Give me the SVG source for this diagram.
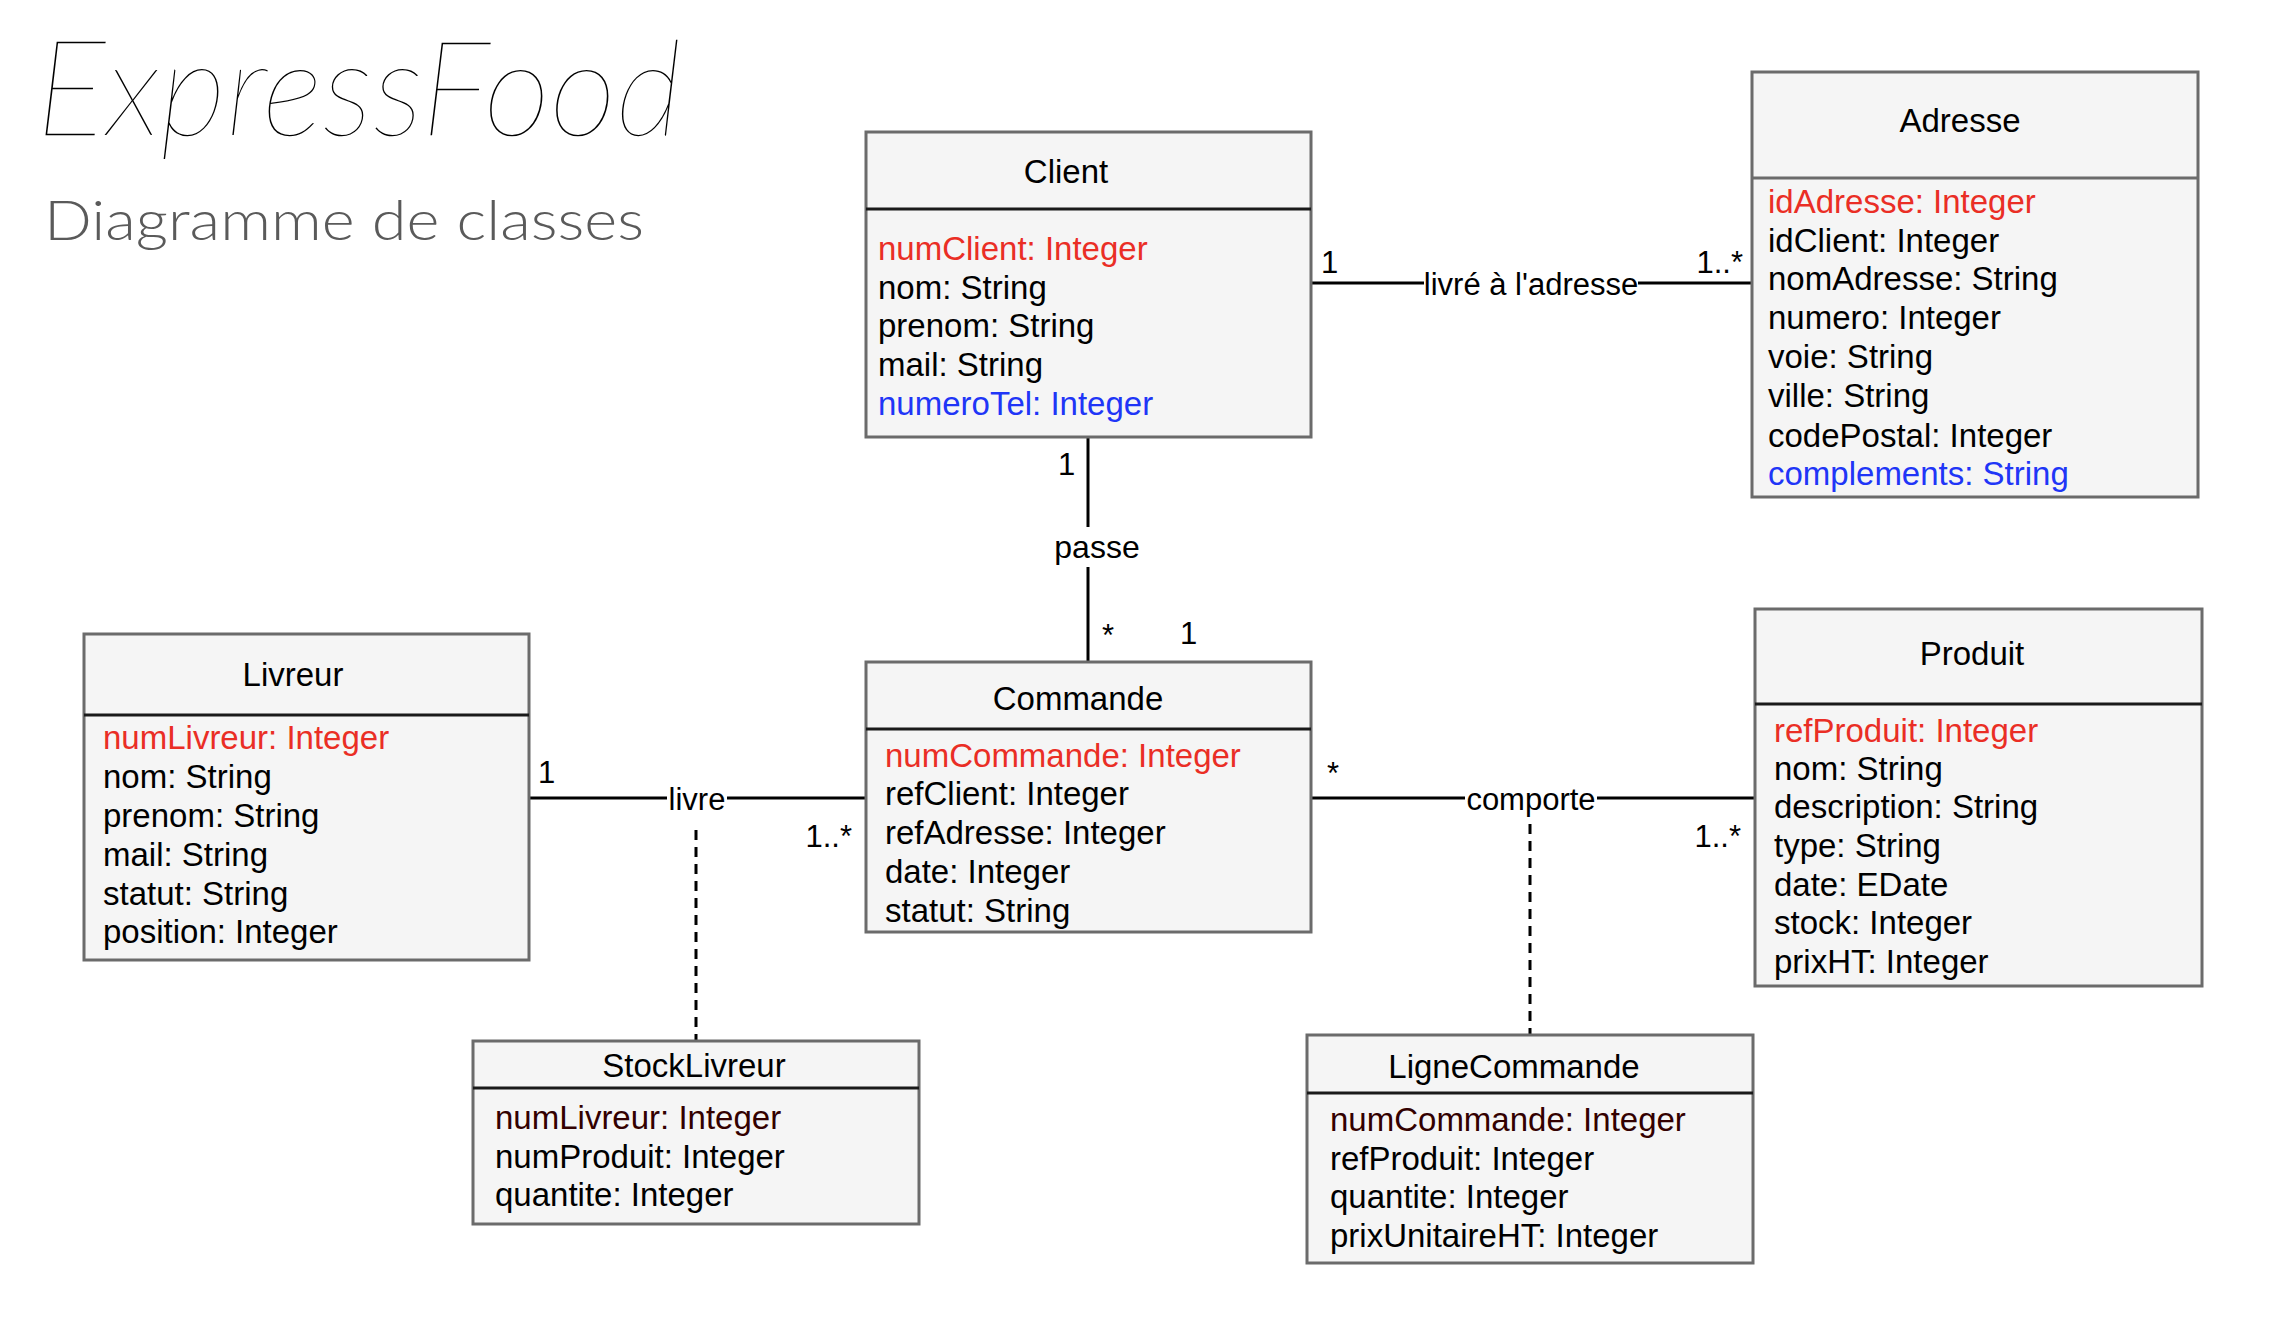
<svg xmlns="http://www.w3.org/2000/svg" width="2293" height="1336" viewBox="0 0 2293 1336">
<style>
.box{fill:#f5f5f5;stroke:#6b6b6b;stroke-width:3}
.sep{stroke:#1a1a1a;stroke-width:3}
.sepg{stroke:#6b6b6b;stroke-width:3}
text{font-family:"Liberation Sans",Arial,Helvetica,sans-serif;font-size:33px;fill:#000}
.title{text-anchor:middle}
.pk{fill:#ea2e25}
.opt{fill:#2035f7}
.fk{fill:#330000}
.edge{stroke:#000;stroke-width:3;fill:none}
.dash{stroke-dasharray:10 7}
.lbl{font-size:31px}
.mid{text-anchor:middle}
.end{text-anchor:end}
.bg{fill:#ffffff}
.h1{font-family:Lato,"Liberation Serif",serif;font-style:italic;font-weight:200;font-size:132px;fill:#000}
.h2{font-family:Lato,"Liberation Sans",sans-serif;font-weight:300;font-size:56px;fill:#5a5a5a}
</style>
<rect width="2293" height="1336" fill="#ffffff"/>
<g id="heading">
<text class="h1" x="36" y="135" textLength="646" lengthAdjust="spacingAndGlyphs">ExpressFood</text>
<text class="h2" x="44" y="240" textLength="600" lengthAdjust="spacingAndGlyphs">Diagramme de classes</text>
</g>
<g id="connectors">
<line class="edge" x1="1311" y1="283" x2="1752" y2="283"/>
<rect class="bg" x="1424" y="268" width="214" height="34"/>
<text class="lbl mid" x="1531" y="295">livré à l'adresse</text>
<text class="lbl" x="1321" y="273">1</text>
<text class="lbl end" x="1743" y="273">1..*</text>
<line class="edge" x1="1088" y1="437" x2="1088" y2="527"/>
<line class="edge" x1="1088" y1="567" x2="1088" y2="662"/>
<text class="lbl mid" x="1097" y="558" style="font-size:32px">passe</text>
<text class="lbl" x="1058" y="475">1</text>
<text class="lbl" x="1102" y="646">*</text>
<text class="lbl" x="1180" y="644">1</text>
<line class="edge" x1="529" y1="798" x2="866" y2="798"/>
<rect class="bg" x="667" y="783" width="60" height="34"/>
<text class="lbl mid" x="697" y="810">livre</text>
<text class="lbl" x="538" y="783">1</text>
<text class="lbl end" x="852" y="847">1..*</text>
<line class="edge" x1="1311" y1="798" x2="1755" y2="798"/>
<rect class="bg" x="1465" y="783" width="132" height="34"/>
<text class="lbl mid" x="1531" y="810">comporte</text>
<text class="lbl" x="1327" y="784">*</text>
<text class="lbl end" x="1741" y="847">1..*</text>
<line class="edge dash" x1="696" y1="830" x2="696" y2="1041"/>
<line class="edge dash" x1="1530" y1="824" x2="1530" y2="1035"/>
</g>
<g id="Client">
<rect class="box" x="866" y="132" width="445" height="305"/>
<line class="sep" x1="866" y1="209" x2="1311" y2="209"/>
<text class="title" x="1066" y="183">Client</text>
<text class="pk" x="878" y="260">numClient: Integer</text>
<text x="878" y="299">nom: String</text>
<text x="878" y="337">prenom: String</text>
<text x="878" y="376">mail: String</text>
<text class="opt" x="878" y="415">numeroTel: Integer</text>
</g>
<g id="Adresse">
<rect class="box" x="1752" y="72" width="446" height="425"/>
<line class="sepg" x1="1752" y1="178" x2="2198" y2="178"/>
<text class="title" x="1960" y="132">Adresse</text>
<text class="pk" x="1768" y="213">idAdresse: Integer</text>
<text x="1768" y="252">idClient: Integer</text>
<text x="1768" y="290">nomAdresse: String</text>
<text x="1768" y="329">numero: Integer</text>
<text x="1768" y="368">voie: String</text>
<text x="1768" y="407">ville: String</text>
<text x="1768" y="447">codePostal: Integer</text>
<text class="opt" x="1768" y="485">complements: String</text>
</g>
<g id="Livreur">
<rect class="box" x="84" y="634" width="445" height="326"/>
<line class="sep" x1="84" y1="715" x2="529" y2="715"/>
<text class="title" x="293" y="686">Livreur</text>
<text class="pk" x="103" y="749">numLivreur: Integer</text>
<text x="103" y="788">nom: String</text>
<text x="103" y="827">prenom: String</text>
<text x="103" y="866">mail: String</text>
<text x="103" y="905">statut: String</text>
<text x="103" y="943">position: Integer</text>
</g>
<g id="Commande">
<rect class="box" x="866" y="662" width="445" height="270"/>
<line class="sep" x1="866" y1="729" x2="1311" y2="729"/>
<text class="title" x="1078" y="710">Commande</text>
<text class="pk" x="885" y="767">numCommande: Integer</text>
<text x="885" y="805">refClient: Integer</text>
<text x="885" y="844">refAdresse: Integer</text>
<text x="885" y="883">date: Integer</text>
<text x="885" y="922">statut: String</text>
</g>
<g id="Produit">
<rect class="box" x="1755" y="609" width="447" height="377"/>
<line class="sep" x1="1755" y1="704" x2="2202" y2="704"/>
<text class="title" x="1972" y="665">Produit</text>
<text class="pk" x="1774" y="742">refProduit: Integer</text>
<text x="1774" y="780">nom: String</text>
<text x="1774" y="818">description: String</text>
<text x="1774" y="857">type: String</text>
<text x="1774" y="896">date: EDate</text>
<text x="1774" y="934">stock: Integer</text>
<text x="1774" y="973">prixHT: Integer</text>
</g>
<g id="StockLivreur">
<rect class="box" x="473" y="1041" width="446" height="183"/>
<line class="sep" x1="473" y1="1088" x2="919" y2="1088"/>
<text class="title" x="694" y="1077">StockLivreur</text>
<text class="fk" x="495" y="1129">numLivreur: Integer</text>
<text x="495" y="1168">numProduit: Integer</text>
<text x="495" y="1206">quantite: Integer</text>
</g>
<g id="LigneCommande">
<rect class="box" x="1307" y="1035" width="446" height="228"/>
<line class="sep" x1="1307" y1="1093" x2="1753" y2="1093"/>
<text class="title" x="1514" y="1078">LigneCommande</text>
<text class="fk" x="1330" y="1131">numCommande: Integer</text>
<text x="1330" y="1170">refProduit: Integer</text>
<text x="1330" y="1208">quantite: Integer</text>
<text x="1330" y="1247">prixUnitaireHT: Integer</text>
</g>
</svg>
